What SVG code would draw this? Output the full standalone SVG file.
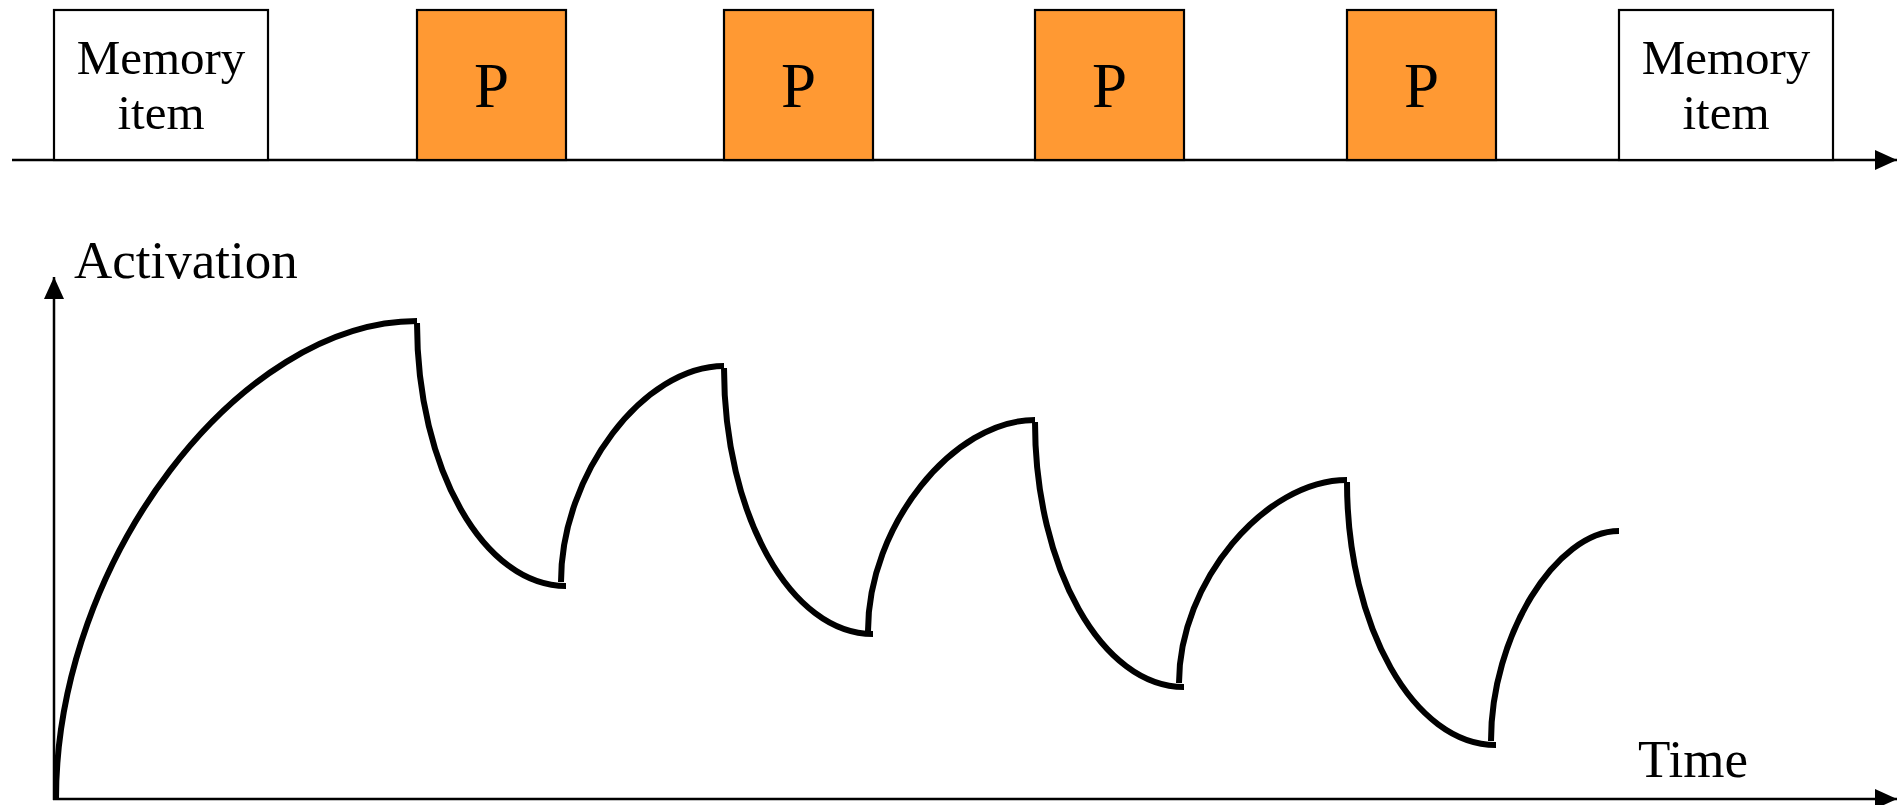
<svg xmlns="http://www.w3.org/2000/svg" width="1900" height="805" viewBox="0 0 1900 805">
<style>
.box{stroke:#000;stroke-width:2.2}
.mem{fill:#fff}
.proc{fill:#FF9933}
.t{font-family:"Liberation Serif","Times New Roman",serif;fill:#000}
.mt{font-size:49px;text-anchor:middle}
.pt{font-size:63px;text-anchor:middle}
.lab{font-size:53px}
.ax{stroke:#000;stroke-width:2.5;fill:none}
.cv{stroke:#000;stroke-width:6;fill:none;stroke-linecap:butt}
</style>
<defs>
<marker id="arr" markerUnits="userSpaceOnUse" markerWidth="22" markerHeight="20" refX="22" refY="10" orient="auto">
<path d="M0,0 L22,10 L0,20 z" fill="#000"/>
</marker>
</defs>
<rect width="1900" height="805" fill="#fff"/>
<g id="connectors">
<line id="timeline" class="ax" x1="12" y1="160" x2="1897" y2="160" marker-end="url(#arr)"/>
<line id="y-axis" class="ax" x1="54" y1="800" x2="54" y2="277" marker-end="url(#arr)"/>
<line id="x-axis" class="ax" x1="53" y1="799" x2="1897" y2="799" marker-end="url(#arr)"/>
</g>
<g id="mem1">
<rect class="box mem" x="54" y="10" width="214" height="150"/>
<text class="t mt" x="161" y="74">Memory</text>
<text class="t mt" x="161" y="129">item</text>
</g>
<g id="p1">
<rect class="box proc" x="417" y="10" width="149" height="150"/>
<text class="t pt" x="491.5" y="107">P</text>
</g>
<g id="p2">
<rect class="box proc" x="724" y="10" width="149" height="150"/>
<text class="t pt" x="798.5" y="107">P</text>
</g>
<g id="p3">
<rect class="box proc" x="1035" y="10" width="149" height="150"/>
<text class="t pt" x="1109.5" y="107">P</text>
</g>
<g id="p4">
<rect class="box proc" x="1347" y="10" width="149" height="150"/>
<text class="t pt" x="1421.5" y="107">P</text>
</g>
<g id="mem2">
<rect class="box mem" x="1619" y="10" width="214" height="150"/>
<text class="t mt" x="1726" y="74">Memory</text>
<text class="t mt" x="1726" y="129">item</text>
</g>
<g id="labels">
<text class="t lab" x="74" y="278">Activation</text>
<text class="t lab" x="1638" y="777">Time</text>
</g>
<g id="activation-curve">
<path class="cv" d="M56,799 C56,560 240,321 417,321"/>
<path class="cv" d="M417,323 C417,469 484,586 566,586"/>
<path class="cv" d="M561,582 C561,474 644,366 724,366"/>
<path class="cv" d="M724,368 C724,515 791,634 873,634"/>
<path class="cv" d="M868,631 C868,526 953,420 1035,420"/>
<path class="cv" d="M1035,422 C1035,568 1102,687 1184,687"/>
<path class="cv" d="M1179,683 C1179,582 1265,480 1347,480"/>
<path class="cv" d="M1347,482 C1347,627 1414,745 1496,745"/>
<path class="cv" d="M1491,741 C1491,636 1556,531 1619,531"/>
</g>
</svg>
